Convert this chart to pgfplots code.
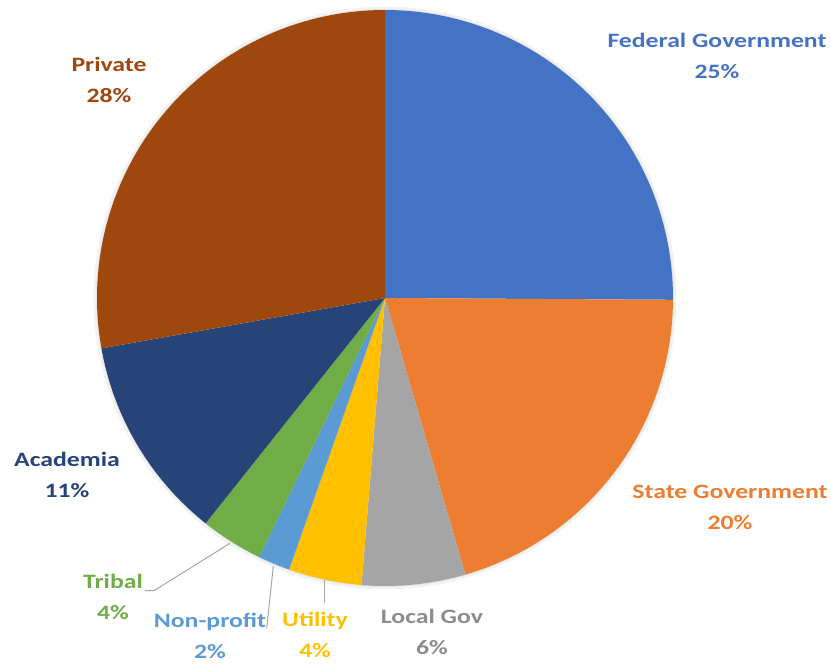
\documentclass[border=0pt]{standalone}
\usepackage{pgfplots}
\pgfplotsset{compat=1.18}
\usepackage{fontspec}
\setmainfont{Carlito}
\newfontfamily\labfont[FakeStretch=1.26]{Carlito}
\definecolor{fed}{HTML}{4472C4}
\definecolor{state}{HTML}{ED7D31}
\definecolor{local}{HTML}{A5A5A5}
\definecolor{localtxt}{HTML}{8C8C8C}
\definecolor{util}{HTML}{FFC000}
\definecolor{nonp}{HTML}{5B9BD5}
\definecolor{tribal}{HTML}{70AD47}
\definecolor{acad}{HTML}{264478}
\definecolor{priv}{HTML}{9E480E}
\definecolor{leader}{HTML}{A6A6A6}
\tikzset{lab/.style={font=\labfont\fontsize{20.5}{31}\selectfont\bfseries, align=center, inner sep=0pt}}
% slice shares in percent (clockwise from 12 o'clock):
% Federal 25.1, State 20.4, Local 5.8, Utility 4.1, Non-profit 1.8, Tribal 3.5, Academia 11.5, Private 27.8
\begin{document}
\begin{tikzpicture}
\begin{axis}[
  scale only axis, width=831bp, height=664bp,
  xmin=0, xmax=831, ymin=-664, ymax=0,
  hide axis, clip=false,
]
\path (0,-664) rectangle (831,0);
% soft shadow
\addplot[draw=black, opacity=0.05, line width=5bp, domain=0:100, samples=120, variable=\t]
  ({385+289*sin(3.6*\t)}, {-298+289*cos(3.6*\t)});
\addplot[draw=black, opacity=0.06, line width=2bp, domain=0:100, samples=120, variable=\t]
  ({385+288*sin(3.6*\t)}, {-298+288*cos(3.6*\t)});
% slices: domain = cumulative start : cumulative end (percent)
\addplot[fill=fed, draw=none, domain=0:25.1, samples=60, variable=\t]
  ({385+288*sin(3.6*\t)}, {-298+288*cos(3.6*\t)}) -- (385,-298) -- cycle;
\addplot[fill=state, draw=none, domain=25.1:45.5, samples=60, variable=\t]
  ({385+288*sin(3.6*\t)}, {-298+288*cos(3.6*\t)}) -- (385,-298) -- cycle;
\addplot[fill=local, draw=none, domain=45.5:51.3, samples=20, variable=\t]
  ({385+288*sin(3.6*\t)}, {-298+288*cos(3.6*\t)}) -- (385,-298) -- cycle;
\addplot[fill=util, draw=none, domain=51.3:55.4, samples=20, variable=\t]
  ({385+288*sin(3.6*\t)}, {-298+288*cos(3.6*\t)}) -- (385,-298) -- cycle;
\addplot[fill=nonp, draw=none, domain=55.4:57.2, samples=10, variable=\t]
  ({385+288*sin(3.6*\t)}, {-298+288*cos(3.6*\t)}) -- (385,-298) -- cycle;
\addplot[fill=tribal, draw=none, domain=57.2:60.7, samples=15, variable=\t]
  ({385+288*sin(3.6*\t)}, {-298+288*cos(3.6*\t)}) -- (385,-298) -- cycle;
\addplot[fill=acad, draw=none, domain=60.7:72.2, samples=40, variable=\t]
  ({385+288*sin(3.6*\t)}, {-298+288*cos(3.6*\t)}) -- (385,-298) -- cycle;
\addplot[fill=priv, draw=none, domain=72.2:100, samples=80, variable=\t]
  ({385+288*sin(3.6*\t)}, {-298+288*cos(3.6*\t)}) -- (385,-298) -- cycle;
% leader lines
\addplot[leader, line width=1bp] coordinates {(145,-590.7) (154,-590.7) (230,-543.3)};
\addplot[leader, line width=1bp] coordinates {(266.7,-628.3) (273.3,-566)};
\addplot[leader, line width=1bp] coordinates {(324,-603.3) (324,-580)};
% labels
\node[lab, text=fed] at (717,-56) {Federal Government\\25\%};
\node[lab, text=state] at (730,-507) {State Government\\20\%};
\node[lab, text=localtxt] at (432,-632) {Local Gov\\6\%};
\node[lab, text=util] at (315,-635) {Utility\\4\%};
\node[lab, text=nonp] at (210,-636) {Non-profit\\2\%};
\node[lab, text=tribal] at (113,-597) {Tribal\\4\%};
\node[lab, text=acad] at (67,-475) {Academia\\11\%};
\node[lab, text=priv] at (109,-80) {Private\\28\%};
\end{axis}
\end{tikzpicture}
\end{document}
